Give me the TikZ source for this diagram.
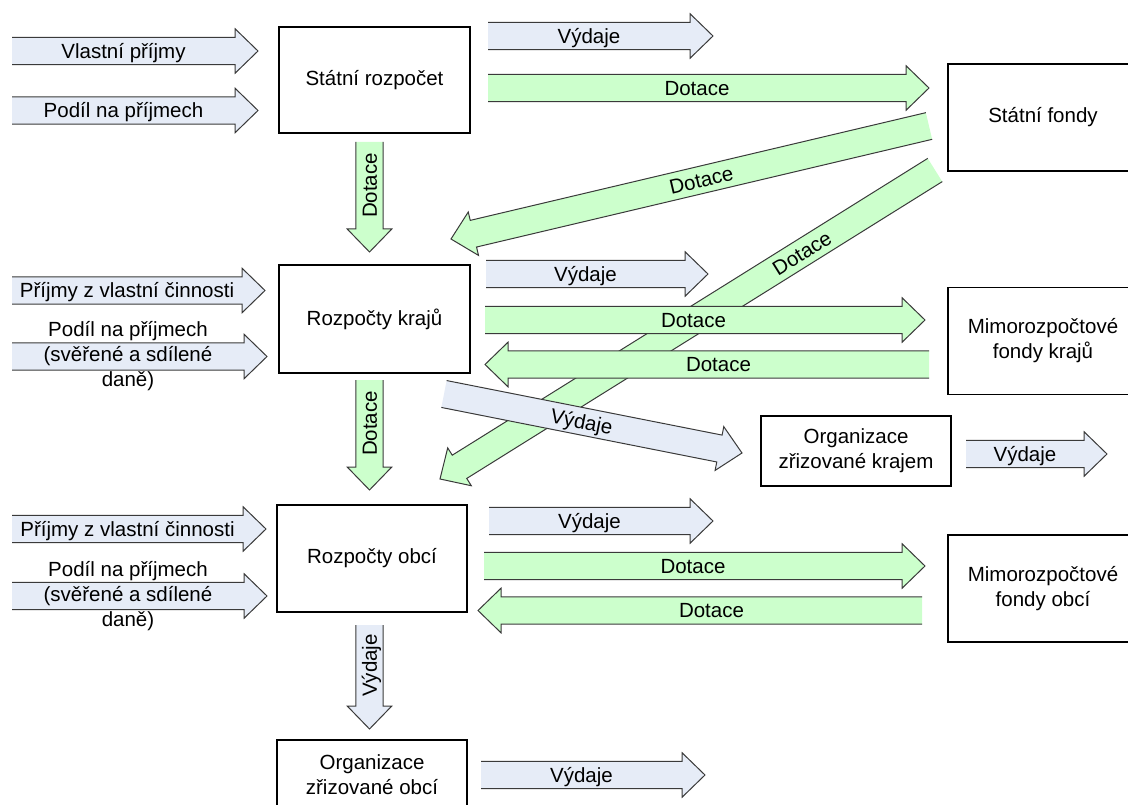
\documentclass[tikz,border=0pt]{standalone}
\usepackage{fontspec}
\setmainfont{Liberation Sans}
\usetikzlibrary{calc}

\definecolor{outflow}{HTML}{E6ECF7}
\definecolor{grant}{HTML}{CCFFCC}
\definecolor{arrowedge}{HTML}{3A3A3A}

\newcommand{\lblfont}{\fontsize{20.5pt}{25pt}\selectfont}
\newcommand{\shaftw}{13.7pt}
\newcommand{\headw}{22.3pt}
\newcommand{\headlen}{23pt}

% block arrow from tail #1 to tip #2, fill #3, id #4, label #5, label options #6
% (the tail end is left open: the outline is not closed)
\newcommand{\blockarrow}[6]{%
  \coordinate (#4-base) at ($(#2)!\headlen!(#1)$);
  \filldraw[fill=#3, draw=arrowedge, line width=1pt, line join=miter]
    ($(#1)!\shaftw!90:(#2)$) -- ($(#4-base)!\shaftw!90:(#2)$)
    -- ($(#4-base)!\headw!90:(#2)$) -- (#2)
    -- ($(#4-base)!\headw!-90:(#2)$) -- ($(#4-base)!\shaftw!-90:(#2)$)
    -- ($(#1)!\shaftw!-90:(#2)$);
  \path (#1) -- (#4-base) node[#6] (#4-label) {#5};
}

\begin{document}
\begin{tikzpicture}[x=1pt, y=-1pt,
  box/.style={draw=black, line width=1.8pt, fill=white, rectangle,
    minimum width=190pt, minimum height=107pt, inner sep=0pt,
    align=center, font=\lblfont},
  lbl/.style={inner sep=0pt, font=\lblfont, text height=16.4pt,
    text depth=1.7pt, pos=0.5},
  mlbl/.style={inner sep=0pt, font=\lblfont, align=center, pos=0.5},
]
\useasboundingbox (0,0) rectangle (1128,805);
\clip (0,0) rectangle (1128,805);

% budgets and funds
\node[box, minimum width=191pt, minimum height=106pt] (sr) at (374.5,80) {Státní rozpočet};
\node[box] (sf) at (1043,117.5) {Státní fondy};
\node[box, minimum width=191pt, minimum height=108pt] (rk) at (374.5,319) {Rozpočty krajů};
\node[box] (mk) at (1043,341) {Mimorozpočtové\\fondy krajů};
\node[box, minimum height=70pt] (ok) at (856,451) {Organizace\\zřizované krajem};
\node[box] (ro) at (372,558.5) {Rozpočty obcí};
\node[box] (mo) at (1043,588.5) {Mimorozpočtové\\fondy obcí};
\node[box, minimum height=70pt] (oo) at (372,775) {Organizace\\zřizované obcí};

% arrow ends
\coordinate (vp-t) at (12,51);      \coordinate (vp-h) at (258,51);
\coordinate (pp-t) at (12,110.5);   \coordinate (pp-h) at (258,110.5);
\coordinate (pzk-t) at (12,290.5);  \coordinate (pzk-h) at (265,290.5);
\coordinate (pdk-t) at (12,356.5);  \coordinate (pdk-h) at (267,356.5);
\coordinate (pzo-t) at (12,529);    \coordinate (pzo-h) at (266,529);
\coordinate (pdo-t) at (12,596);    \coordinate (pdo-h) at (267,596);

\coordinate (vsr-t) at (488,36);    \coordinate (vsr-h) at (713,36);
\coordinate (dsf-t) at (488,88);    \coordinate (dsf-h) at (929,88);
\coordinate (da-t) at (929,126);    \coordinate (da-h) at (451,239);
\coordinate (db-t) at (935,170);    \coordinate (db-h) at (440,479);
\coordinate (vrk-t) at (486,274);   \coordinate (vrk-h) at (708,274);
\coordinate (dmk-t) at (485,320);   \coordinate (dmk-h) at (925,320);
\coordinate (dkr-t) at (929,364.5); \coordinate (dkr-h) at (485,364.5);
\coordinate (vok-t) at (444,394);   \coordinate (vok-h) at (742,453);
\coordinate (vko-t) at (966,454);   \coordinate (vko-h) at (1107,454);
\coordinate (vro-t) at (489,521);   \coordinate (vro-h) at (713,521);
\coordinate (dmo-t) at (484,566);   \coordinate (dmo-h) at (925,566);
\coordinate (dob-t) at (922,610.5); \coordinate (dob-h) at (478,610.5);
\coordinate (voo-t) at (481,775);   \coordinate (voo-h) at (705,775);

\coordinate (d1-t) at (369.5,142);  \coordinate (d1-h) at (369.5,252);
\coordinate (d2-t) at (369.5,380);  \coordinate (d2-h) at (369.5,490);
\coordinate (v3-t) at (369.5,625);  \coordinate (v3-h) at (369.5,729);

% incomes on the left
\blockarrow{vp-t}{vp-h}{outflow}{vp}{Vlastní příjmy}{lbl}
\blockarrow{pp-t}{pp-h}{outflow}{pp}{Podíl na příjmech}{lbl}
\blockarrow{pzk-t}{pzk-h}{outflow}{pzk}{Příjmy z vlastní činnosti}{lbl}
\blockarrow{pdk-t}{pdk-h}{outflow}{pdk}{Podíl na příjmech\\(svěřené a sdílené\\daně)}{mlbl}
\blockarrow{pzo-t}{pzo-h}{outflow}{pzo}{Příjmy z vlastní činnosti}{lbl}
\blockarrow{pdo-t}{pdo-h}{outflow}{pdo}{Podíl na příjmech\\(svěřené a sdílené\\daně)}{mlbl}

% grants from the state funds
\blockarrow{db-t}{db-h}{grant}{db}{Dotace}{lbl, sloped, pos=0.28}
\blockarrow{da-t}{da-h}{grant}{da}{Dotace}{lbl, sloped}

% flows of the state budget
\blockarrow{vsr-t}{vsr-h}{outflow}{vsr}{Výdaje}{lbl}
\blockarrow{dsf-t}{dsf-h}{grant}{dsf}{Dotace}{lbl}
\blockarrow{d1-t}{d1-h}{grant}{d1}{Dotace}{lbl, rotate=90}

% flows of the regions
\blockarrow{vrk-t}{vrk-h}{outflow}{vrk}{Výdaje}{lbl}
\blockarrow{dmk-t}{dmk-h}{grant}{dmk}{Dotace}{lbl}
\blockarrow{dkr-t}{dkr-h}{grant}{dkr}{Dotace}{lbl}
\blockarrow{d2-t}{d2-h}{grant}{d2}{Dotace}{lbl, rotate=90}
\blockarrow{vok-t}{vok-h}{outflow}{vok}{Výdaje}{lbl, sloped}
\blockarrow{vko-t}{vko-h}{outflow}{vko}{Výdaje}{lbl}

% flows of the municipalities
\blockarrow{vro-t}{vro-h}{outflow}{vro}{Výdaje}{lbl}
\blockarrow{dmo-t}{dmo-h}{grant}{dmo}{Dotace}{lbl}
\blockarrow{dob-t}{dob-h}{grant}{dob}{Dotace}{lbl}
\blockarrow{v3-t}{v3-h}{outflow}{v3}{Výdaje}{lbl, rotate=90}
\blockarrow{voo-t}{voo-h}{outflow}{voo}{Výdaje}{lbl}
\end{tikzpicture}
\end{document}
